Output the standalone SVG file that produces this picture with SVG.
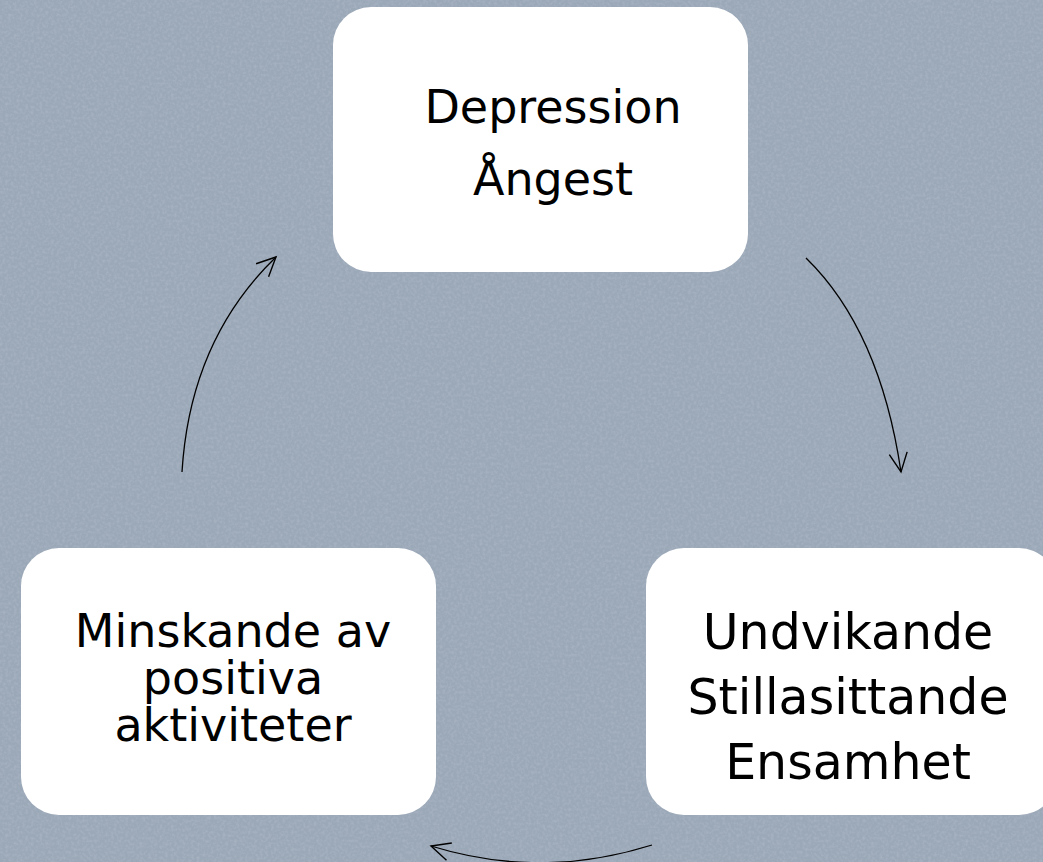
<svg xmlns="http://www.w3.org/2000/svg" width="1043" height="862" viewBox="0 0 1043 862">
<defs>
<filter id="tex" x="0" y="0" width="100%" height="100%">
<feTurbulence type="fractalNoise" baseFrequency="0.35" numOctaves="2" seed="3" result="n"/>
<feColorMatrix in="n" type="matrix" values="0 0 0 0 0.6  0 0 0 0 0.655  0 0 0 0 0.72  0 0 0 -0.9 0.55" result="c"/>
<feComposite in="c" in2="SourceGraphic" operator="over"/>
</filter>
<marker id="ah" markerUnits="userSpaceOnUse" markerWidth="30" markerHeight="30" refX="0" refY="0" viewBox="-20 -15 30 30" orient="auto" overflow="visible">
<path d="M-19,-9 L0,0 L-19,9" fill="none" stroke="#000" stroke-width="1.4"/>
</marker>
<style>
.box{fill:#fff}
.t{font-family:"DejaVu Sans",Verdana,sans-serif;font-size:46px;fill:#000;text-anchor:middle}
.r{font-size:49px}
.c{fill:none;stroke:#000;stroke-width:1.3;marker-end:url(#ah)}
</style>
</defs>
<rect width="1043" height="862" fill="#9ba8b8"/>
<rect width="1043" height="862" fill="#9ba8b8" filter="url(#tex)" opacity="0.5"/>
<g id="connectors">
<path class="c" d="M806,258 Q880,330 901,472"/>
<path class="c" d="M652,845 Q541,880 431,846"/>
<path class="c" d="M182,472 Q190,340 276,257"/>
</g>
<g id="node-top">
<rect class="box" x="333" y="7" width="415" height="265" rx="38"/>
<text class="t" x="553" y="123">Depression</text>
<text class="t" x="553" y="195">Ångest</text>
</g>
<g id="node-right">
<rect class="box" x="646" y="548" width="411" height="267" rx="38"/>
<text class="t r" x="848" y="649">Undvikande</text>
<text class="t r" x="848" y="714">Stillasittande</text>
<text class="t r" x="848" y="779">Ensamhet</text>
</g>
<g id="node-left">
<rect class="box" x="21" y="548" width="415" height="267" rx="38"/>
<text class="t" x="233" y="647">Minskande av</text>
<text class="t" x="233" y="694">positiva</text>
<text class="t" x="233" y="741">aktiviteter</text>
</g>
</svg>
